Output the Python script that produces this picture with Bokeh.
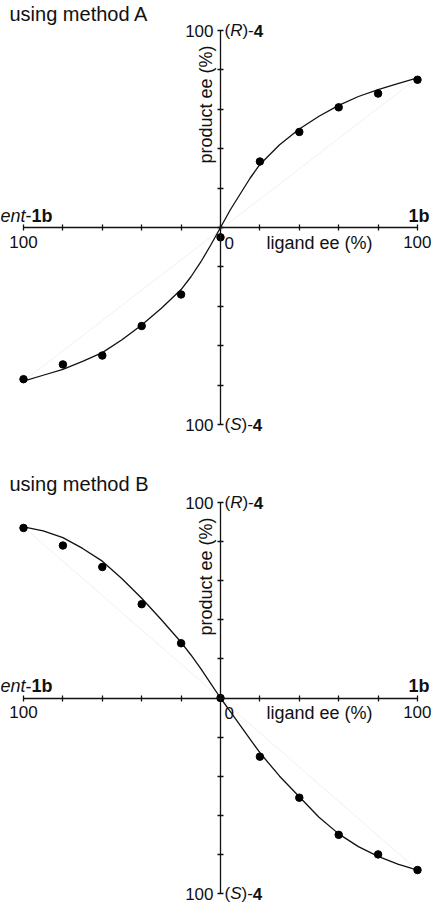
from bokeh.plotting import figure
from bokeh.models import LinearAxis, FixedTicker, Label, Range1d
from bokeh.layouts import column
from bokeh.embed import file_html
from bokeh.resources import INLINE

# ---------------- data ----------------
ligand_ee = [-100, -80, -60, -40, -20, 0, 20, 40, 60, 80, 100]
product_ee_A = [-77, -69.5, -65, -50, -34, -5, 33.5, 48.5, 61, 68, 75]
product_ee_B = [87, 78, 67, 48, 28, 0, -30, -51, -70, -80, -88]

fit_x = [-100, -90, -80, -70, -60, -50, -40, -30, -20, -15, -10, -5, 0,
         5, 10, 15, 20, 30, 40, 50, 60, 70, 80, 90, 100]
fit_A = [-78, -75, -72, -68, -63.5, -57, -49.5, -41, -31.5, -25, -17.5, -9, 0,
         9, 17, 25, 32, 42, 50, 56.5, 62, 66.5, 70, 73, 76]
fit_B = [87.5, 85.5, 82, 76.5, 70, 61, 51, 40, 28.5, 22, 15, 7.5, 0,
         -7, -14, -21, -28, -40, -50.5, -61, -69.5, -76, -81, -85, -88]

faint_x = [-100, 100]
faint_A = [-78, 76]
faint_B = [87.5, -88]

axis_ticks = [-100, -80, -60, -40, -20, 0, 20, 40, 60, 80, 100]
end_label = "100"
titles = ["using method A", "using method B"]
x_name = "ligand ee (%)"
y_name = "product ee (%)"

# ---------------- style ----------------
FONT = "Liberation Sans"
INK = "#111111"
W = 431
NAME_SIZE = 18

W_REG = {"(": 0.333, ")": 0.333, "-": 0.333, "e": 0.556, "n": 0.556, "t": 0.278,
         "1": 0.556, "b": 0.556, "4": 0.556, "R": 0.722, "S": 0.667}
W_BOLD = {"1": 0.556, "b": 0.611, "4": 0.556}


def tw(s, style, size):
    tbl = W_BOLD if style == "bold" else W_REG
    return sum(tbl[c] for c in s) * size


def rich(p, x, y, parts, x_off, y_off, size, align="left"):
    total = sum(tw(s, st, size) for s, st in parts)
    start = x_off if align == "left" else x_off - total
    for s, st in parts:
        p.add_layout(Label(x=x, y=y, x_offset=start, y_offset=y_off, text=s,
                           text_font=FONT, text_font_size=f"{size}px",
                           text_font_style=st, text_baseline="middle",
                           text_align="left", text_color=INK))
        start += tw(s, st, size)


def rng_x(px_lo, px_hi, size):
    u = 200.0 / (px_hi - px_lo)
    return Range1d(-100 - px_lo * u, 100 + (size - px_hi) * u)


def rng_y(px_top, px_bot, size):
    u = 200.0 / (px_bot - px_top)
    return Range1d(-100 - (size - px_bot) * u, 100 + px_top * u)


def make_axis(kind):
    ax = LinearAxis(fixed_location=0, bounds=(-100, 100),
                    ticker=FixedTicker(ticks=axis_ticks),
                    major_label_overrides={t: (end_label if abs(t) == 100 else "")
                                           for t in axis_ticks},
                    axis_line_color=INK, axis_line_width=1.3,
                    major_tick_line_color=INK, major_tick_line_width=1.3,
                    major_tick_in=3, major_tick_out=3,
                    minor_tick_line_color=None,
                    major_label_text_font=FONT,
                    major_label_text_font_size="17px",
                    major_label_text_color=INK,
                    major_label_standoff=4 if kind == "y" else 5)
    return ax


def panel(title, yvals, fit_y, faint_y, height, top_px, bot_px, title_gap):
    p = figure(width=W, height=height, x_range=rng_x(23, 417, W),
               y_range=rng_y(top_px, bot_px, height),
               output_backend="svg", toolbar_location=None,
               x_axis_location=None, y_axis_location=None,
               min_border=0, outline_line_color=None,
               background_fill_color="white", border_fill_color="white")
    p.grid.grid_line_color = None

    p.add_layout(make_axis("x"), "below")
    p.add_layout(make_axis("y"), "left")

    p.line(faint_x, faint_y, line_color="#f0f0f0", line_width=1)
    p.line(fit_x, fit_y, line_color=INK, line_width=1.3)
    p.scatter(ligand_ee, yvals, size=7.5, fill_color="black", line_color="black")

    # title
    p.add_layout(Label(x=-100, y=100, x_offset=-14, y_offset=title_gap, text=title,
                       text_font=FONT, text_font_size="20px", text_color=INK,
                       text_baseline="middle", text_align="left"))
    # x axis end names
    rich(p, -100, 0, [("ent", "italic"), ("-", "normal"), ("1b", "bold")], -23, 12, NAME_SIZE)
    rich(p, 100, 0, [("1b", "bold")], 12, 12, NAME_SIZE, align="right")
    # origin and axis names
    p.add_layout(Label(x=0, y=0, x_offset=4, y_offset=-15, text="0",
                       text_font=FONT, text_font_size="17px", text_color=INK,
                       text_baseline="middle", text_align="left"))
    p.add_layout(Label(x=0, y=0, x_offset=46, y_offset=-15, text=x_name,
                       text_font=FONT, text_font_size=f"{NAME_SIZE}px", text_color=INK,
                       text_baseline="middle", text_align="left"))
    p.add_layout(Label(x=0, y=100, x_offset=-15, y_offset=-15, text=y_name,
                       angle=1.5707963, text_font=FONT, text_font_size=f"{NAME_SIZE}px",
                       text_color=INK, text_baseline="middle", text_align="right"))
    # y axis end names
    rich(p, 0, 100, [("(", "normal"), ("R", "italic"), (")-", "normal"), ("4", "bold")], 4, 0, 17)
    rich(p, 0, -100, [("(", "normal"), ("S", "italic"), (")-", "normal"), ("4", "bold")], 4, 0, 17)
    return p


p1 = panel(titles[0], product_ee_A, fit_A, faint_A, 468, 30, 424, 17)
p2 = panel(titles[1], product_ee_B, fit_B, faint_B, 437, 34, 425, 19)

layout = column(p1, p2, spacing=0)
open("out.html", "w").write(file_html(layout, INLINE))
